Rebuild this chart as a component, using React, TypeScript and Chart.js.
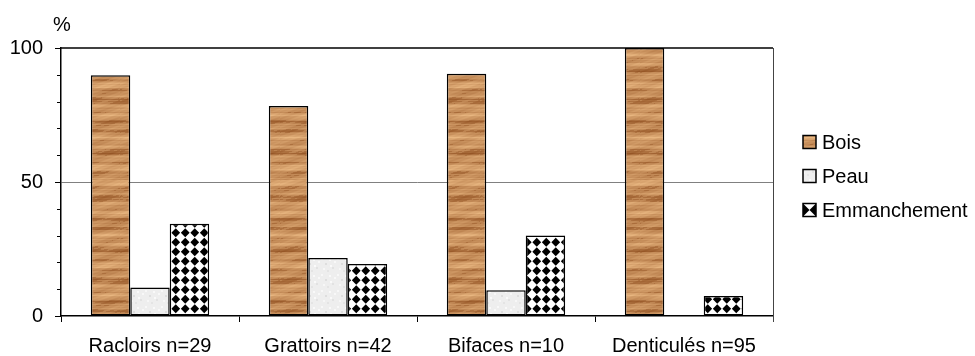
import React, { useEffect, useRef } from 'react';
import { Chart, registerables } from 'chart.js';

Chart.register(...registerables);

const categories = ['Racloirs n=29', 'Grattoirs n=42', 'Bifaces n=10', 'Denticulés n=95'];
const seriesNames = ['Bois', 'Peau', 'Emmanchement'];
const bois = [89.8, 78.4, 90.4, 100];
const peau = [10.6, 21.6, 9.6, 0];
const emmanchement = [34.4, 19.4, 30.0, 7.5];
const yTickLabels = [0, 50, 100];
const yUnit = '%';

const FONT = "'Liberation Sans', Arial, sans-serif";

function woodPattern(ctx: CanvasRenderingContext2D) {
  const w = 40;
  const h = 180;
  const c = document.createElement('canvas');
  c.width = w;
  c.height = h;
  const g = c.getContext('2d')!;
  const img = g.createImageData(w, h);
  const light = [232, 182, 128];
  const dark = [150, 86, 38];
  for (let y = 0; y < h; y++) {
    const base =
      0.6 +
      0.14 * Math.sin(y * 0.61) +
      0.12 * Math.sin(y * 0.23 + 1.0) +
      0.08 * Math.sin(y * 1.37 + 2.0) +
      0.05 * Math.sin(y * 2.9 + 0.4);
    for (let x = 0; x < w; x++) {
      let t = base + 0.08 * Math.sin(x * 0.17 + y * 0.41) + 0.04 * Math.sin(x * 0.7 + y * 1.9);
      if (t < 0.45) t -= 0.15;
      t = Math.max(0, Math.min(1, t));
      const i = (y * w + x) * 4;
      img.data[i] = dark[0] + (light[0] - dark[0]) * t;
      img.data[i + 1] = dark[1] + (light[1] - dark[1]) * t;
      img.data[i + 2] = dark[2] + (light[2] - dark[2]) * t;
      img.data[i + 3] = 255;
    }
  }
  g.putImageData(img, 0, 0);
  return ctx.createPattern(c, 'repeat')!;
}

function skinPattern(ctx: CanvasRenderingContext2D) {
  const c = document.createElement('canvas');
  c.width = 16;
  c.height = 16;
  const g = c.getContext('2d')!;
  g.fillStyle = '#eeeeee';
  g.fillRect(0, 0, 16, 16);
  const dots: [number, number, string][] = [
    [1, 2, '#f8f8f8'], [5, 7, '#dedede'], [9, 3, '#f9f9f9'], [12, 11, '#e2e2e2'],
    [3, 12, '#f7f7f7'], [14, 5, '#f8f8f8'], [7, 14, '#e4e4e4'], [10, 9, '#fafafa'],
  ];
  dots.forEach(([x, y, col]) => {
    g.fillStyle = col;
    g.fillRect(x, y, 2, 2);
  });
  return ctx.createPattern(c, 'repeat')!;
}

function diamondPattern(ctx: CanvasRenderingContext2D) {
  const c = document.createElement('canvas');
  c.width = 19;
  c.height = 19;
  const g = c.getContext('2d')!;
  g.fillStyle = '#ffffff';
  g.fillRect(0, 0, 19, 19);
  g.fillStyle = '#000000';
  const s = 9.5;
  const r = 4.4;
  for (let i = 0; i < 2; i++) {
    for (let j = 0; j < 2; j++) {
      const cx = s / 2 + i * s;
      const cy = s / 2 + j * s;
      g.beginPath();
      g.moveTo(cx, cy - r);
      g.lineTo(cx + r, cy);
      g.lineTo(cx, cy + r);
      g.lineTo(cx - r, cy);
      g.closePath();
      g.fill();
    }
  }
  return ctx.createPattern(c, 'repeat')!;
}

const framePlugin = {
  id: 'frameAndLegend',
  afterDraw(chart: any) {
    const { ctx, chartArea, scales } = chart;
    const y = scales.y;
    ctx.save();
    // top border
    ctx.strokeStyle = '#000';
    ctx.lineWidth = 1.5;
    ctx.beginPath();
    ctx.moveTo(chartArea.left, chartArea.top);
    ctx.lineTo(chartArea.right, chartArea.top);
    ctx.stroke();
    // right border
    ctx.strokeStyle = '#444';
    ctx.lineWidth = 1;
    ctx.beginPath();
    ctx.moveTo(chartArea.right + 0.5, chartArea.top);
    ctx.lineTo(chartArea.right + 0.5, chartArea.bottom + 6);
    ctx.stroke();
    // y ticks (major & minor)
    ctx.strokeStyle = '#000';
    ctx.lineWidth = 1;
    for (let v = 0; v <= 100; v += 10) {
      const py = Math.round(y.getPixelForValue(v)) + 0.5;
      const len = yTickLabels.includes(v) ? 6 : 4;
      ctx.beginPath();
      ctx.moveTo(chartArea.left - len, py);
      ctx.lineTo(chartArea.left, py);
      ctx.stroke();
    }
    // unit
    ctx.fillStyle = '#000';
    ctx.font = `20px ${FONT}`;
    ctx.textAlign = 'center';
    ctx.textBaseline = 'middle';
    ctx.fillText(yUnit, chartArea.left + 1, 25);
    // legend
    const lx = 803;
    const centers = [142, 176, 210];
    chart.data.datasets.forEach((ds: any, i: number) => {
      const cy = centers[i];
      const bx = lx, by = cy - 6.5, bw = 13, bh = 13;
      if (i === 2) {
        ctx.fillStyle = '#fff';
        ctx.fillRect(bx, by, bw, bh);
        ctx.fillStyle = '#000';
        ctx.beginPath();
        ctx.moveTo(bx, by);
        ctx.lineTo(bx + bw / 2, cy);
        ctx.lineTo(bx, by + bh);
        ctx.closePath();
        ctx.fill();
        ctx.beginPath();
        ctx.moveTo(bx + bw, by);
        ctx.lineTo(bx + bw / 2, cy);
        ctx.lineTo(bx + bw, by + bh);
        ctx.closePath();
        ctx.fill();
      } else {
        ctx.fillStyle = ds.backgroundColor;
        ctx.fillRect(bx, by, bw, bh);
      }
      ctx.strokeStyle = '#000';
      ctx.lineWidth = 1.5;
      ctx.strokeRect(bx, by, bw, bh);
      ctx.fillStyle = '#000';
      ctx.font = `20px ${FONT}`;
      ctx.textAlign = 'left';
      ctx.textBaseline = 'middle';
      ctx.fillText(ds.label, lx + 19, cy + 1);
    });
    ctx.restore();
  },
};

export default function App() {
  const ref = useRef<HTMLCanvasElement | null>(null);

  useEffect(() => {
    document.body.style.margin = '0';
    const canvas = ref.current!;
    const ctx = canvas.getContext('2d')!;
    const fills = [woodPattern(ctx), skinPattern(ctx), diamondPattern(ctx)];
    const values = [bois, peau, emmanchement];
    const chart = new Chart(canvas, {
      type: 'bar',
      data: {
        labels: categories,
        datasets: seriesNames.map((name, i) => ({
          label: name,
          data: values[i],
          backgroundColor: fills[i] as any,
          borderColor: '#000',
          borderWidth: 1.5,
          borderSkipped: false,
          categoryPercentage: 0.665,
          barPercentage: 1,
        })),
      },
      options: {
        responsive: false,
        animation: false,
        devicePixelRatio: 1,
        layout: { padding: { top: 48, right: 202, left: 0, bottom: 0 } },
        plugins: {
          legend: { display: false },
          tooltip: { enabled: false },
          title: { display: false },
        },
        scales: {
          x: {
            grid: {
              drawOnChartArea: false,
              drawTicks: true,
              tickLength: 6,
              tickColor: '#000',
              offset: true,
            },
            border: { color: '#000', width: 1.5 },
            ticks: {
              color: '#000',
              font: { family: FONT, size: 20 },
              padding: 12,
              maxRotation: 0,
              autoSkip: false,
            },
            afterFit: (s: any) => {
              s.height = 40;
            },
          },
          y: {
            min: 0,
            max: 100,
            grid: {
              drawTicks: false,
              color: (c: any) => (c.tick && c.tick.value === 50 ? '#808080' : 'rgba(0,0,0,0)'),
              lineWidth: 1,
            },
            border: { color: '#000', width: 1.5 },
            ticks: {
              stepSize: 10,
              autoSkip: false,
              color: '#000',
              font: { family: FONT, size: 20 },
              padding: 18,
              callback: (v: any) => (yTickLabels.includes(Number(v)) ? String(v) : ''),
            },
            afterFit: (s: any) => {
              s.width = 61;
            },
          },
        },
      },
      plugins: [framePlugin],
    });
    return () => chart.destroy();
  }, []);

  return (
    <div style={{ width: 975, height: 356 }}>
      <canvas ref={ref} width={975} height={356} style={{ display: 'block' }} />
    </div>
  );
}
